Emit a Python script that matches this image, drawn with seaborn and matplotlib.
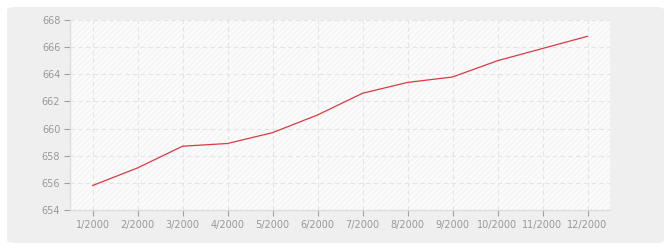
import matplotlib
matplotlib.use("Agg")
import matplotlib.pyplot as plt
import seaborn as sns
import pandas as pd
from matplotlib.patches import FancyBboxPatch

months = ["1/2000", "2/2000", "3/2000", "4/2000", "5/2000", "6/2000",
          "7/2000", "8/2000", "9/2000", "10/2000", "11/2000", "12/2000"]
values = [655.8, 657.1, 658.7, 658.9, 659.7, 661.0,
          662.6, 663.4, 663.8, 665.0, 665.9, 666.8]
y_ticks = [654, 656, 658, 660, 662, 664, 666, 668]

sns.set_style("white")
plt.rcParams['font.family'] = ['DejaVu Sans']
plt.rcParams['hatch.color'] = '#f1f1f1'
plt.rcParams['hatch.linewidth'] = 0.6

fig = plt.figure(figsize=(6.7, 2.5), dpi=100)
fig.patch.set_facecolor('white')
panel = FancyBboxPatch((7 / 670, 7 / 250), 657 / 670, 236 / 250,
                       boxstyle="round,pad=0,rounding_size=0.012",
                       transform=fig.transFigure, facecolor='#efefef',
                       edgecolor='none', zorder=-10)
fig.patches.append(panel)

ax = fig.add_axes([70 / 670, 40 / 250, 540 / 670, 190 / 250])
ax.set_zorder(1)
ax.patch.set_facecolor('#fbfbfb')
ax.patch.set_hatch('//////')
ax.patch.set_edgecolor('#f1f1f1')

df = pd.DataFrame({"month": months, "value": values, "x": range(len(months))})
sns.lineplot(data=df, x="x", y="value", ax=ax, color='#d93a44', linewidth=0.9)

ax.set_xlim(-0.5, len(months) - 0.5)
ax.set_ylim(654, 668)
ax.set_xticks(range(len(months)))
ax.set_xticklabels(months)
ax.set_yticks(y_ticks)
ax.set_xlabel("")
ax.set_ylabel("")

ax.grid(True, color='#e4e4e4', linestyle=(0, (4, 3)), linewidth=0.8)
ax.set_axisbelow(True)

for side in ['top', 'right']:
    ax.spines[side].set_visible(False)
for side in ['left', 'bottom']:
    ax.spines[side].set_color('#dddddd')
    ax.spines[side].set_linewidth(1.0)

ax.tick_params(axis='both', which='both', colors='#a0a0a0', labelcolor='#999999',
               labelsize=7, length=4, width=0.8, direction='out', pad=3,
               left=True, bottom=True)

fig.savefig("out.png", dpi=100, facecolor='white')
